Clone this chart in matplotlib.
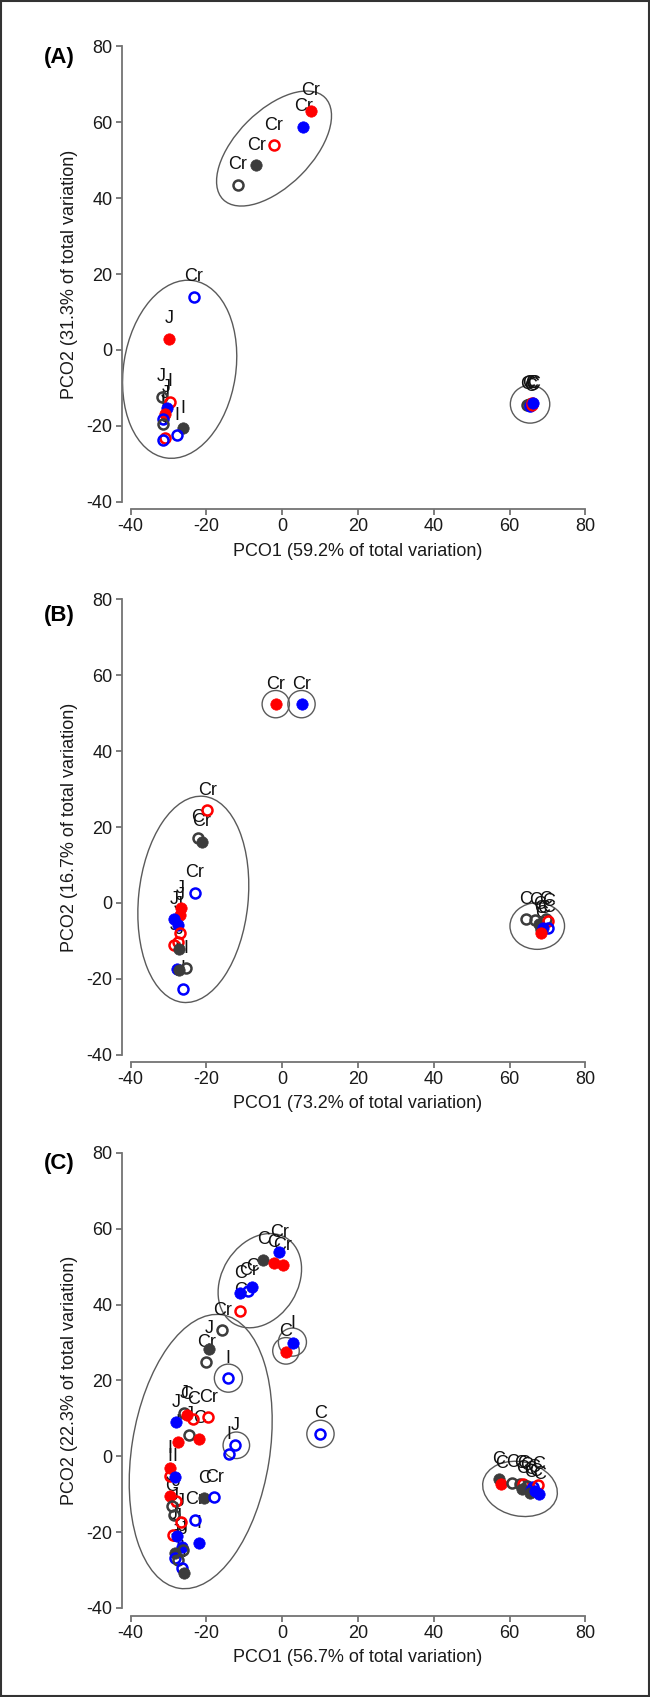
import matplotlib
matplotlib.use("Agg")
import matplotlib.pyplot as plt
from matplotlib.patches import Ellipse, Rectangle

plt.rcParams['font.family'] = ['Liberation Sans', 'DejaVu Sans']
plt.rcParams['axes.unicode_minus'] = False

# ---- data (PCO1, PCO2) ----
# kind: k = dark grey, r = red, b = blue; f = filled, o = open

# panel A
a_x = [-11.7, -6.8, -2.2, 5.6, 7.5,
       -23.3, -29.8, -31.8, -29.6, -30.5, -30.9, -31.5, -31.4, -26.2, -27.8, -30.8, -31.4,
       64.5, 65.0, 65.5, 65.8, 66.0, 66.3]
a_y = [43.5, 48.7, 53.9, 58.8, 63.0,
       14.0, 3.0, -12.4, -13.7, -15.3, -16.8, -18.3, -19.4, -20.6, -22.5, -23.2, -23.8,
       -14.5, -14.2, -14.8, -14.0, -14.6, -14.1]
a_kind = ['ko', 'kf', 'ro', 'bf', 'rf',
          'bo', 'rf', 'ko', 'ro', 'bf', 'rf', 'bo', 'ko', 'kf', 'bo', 'ro', 'bo',
          'ko', 'kf', 'bo', 'ro', 'rf', 'bf']
a_lab = ['Cr', 'Cr', 'Cr', 'Cr', 'Cr',
         'Cr', 'J', 'J', 'I', 'J', 'J', 'I', 'I', 'I', 'I', 'J', 'J',
         'C', 'C', 'C', 'C', 'C', 'C']
# ellipses: centre x, centre y, width, height, angle
a_ell = [(-2.15, 53.1, 38.0, 19.9, 45), (-27.05, -5.1, 47.3, 29.6, 81.2),
         (65.4, -14.3, 10.4, 10.0, 0)]
a_pct = ("59.2", "31.3")

# panel B
b_x = [-1.7, 5.1, -19.8, -22.3, -21.2, -23.0,
       -26.8, -26.9, -28.5, -27.4, -27.0, -27.4, -28.5, -27.2, -25.4, -27.8, -27.2, -26.3,
       64.3, 66.8, 69.6, 67.8, 68.3, 70.2, 70.2, 68.9, 68.4]
b_y = [52.4, 52.4, 24.4, 17.2, 16.1, 2.7,
       -1.4, -3.2, -4.3, -5.8, -8.0, -10.2, -11.2, -12.2, -17.2, -17.5, -17.7, -22.6,
       -4.3, -4.6, -4.3, -5.6, -6.8, -4.9, -6.5, -6.7, -8.0]
b_kind = ['rf', 'bf', 'ro', 'ko', 'kf', 'bo',
          'rf', 'rf', 'bf', 'bf', 'ro', 'ro', 'ro', 'kf', 'ko', 'bf', 'kf', 'bo',
          'ko', 'ko', 'ko', 'kf', 'ko', 'ro', 'bo', 'bf', 'rf']
b_lab = ['Cr', 'Cr', 'Cr', 'C', 'Cr', 'Cr',
         'J', 'J', 'J', 'J', 'J', 'J', 'J', 'J', 'I', 'I', 'I', 'I',
         'C', 'C', 'C', 'C', 'C', 'C', 'C', 'C', 'C']
b_ell = [(-23.45, 0.93, 54.6, 28.9, 84.2), (67.3, -6.1, 14.4, 12.3, 0),
         (-1.7, 52.4, 7.2, 7.2, 0), (5.1, 52.4, 7.2, 7.2, 0)]
b_pct = ("73.2", "16.7")

# panel C
c_x = [-5.0, -0.8, -2.2, 0.1, -11.1, -8.9, -7.9, -11.0,
       -15.8, -19.2, -20.0, -14.2, 1.0, 2.8, -12.4, -14.0, 10.1,
       -25.8, -28.0, -25.2, -23.5, -19.5, -24.5, -27.4, -21.9, -29.6, -29.6, -28.3,
       -20.6, -17.9, -29.6, -28.0, -29.2, -28.5, -23.0, -26.8, -21.9, -28.7, -27.7,
       -26.5, -28.3, -28.3, -26.1, -27.4, -26.5, -25.9,
       57.2, 57.8, 60.7, 62.8, 63.6, 63.4, 64.6, 65.6, 66.2, 67.6, 65.5, 67.8, 66.8]
c_y = [51.8, 53.8, 51.0, 50.4, 43.0, 43.6, 44.7, 38.4,
       33.2, 28.3, 24.8, 20.6, 27.5, 29.8, 2.9, 0.6, 5.9,
       11.3, 9.0, 10.9, 9.7, 10.3, 5.7, 3.7, 4.6, -3.1, -5.3, -5.4,
       -11.0, -10.8, -10.4, -11.9, -13.2, -15.5, -16.7, -17.2, -22.9, -20.7, -21.1,
       -23.8, -25.5, -26.8, -24.6, -27.3, -29.5, -30.7,
       -6.0, -7.3, -7.0, -7.2, -7.3, -8.6, -7.8, -8.8, -8.2, -7.5, -9.6, -10.0, -9.2]
c_kind = ['kf', 'bf', 'rf', 'rf', 'bf', 'bo', 'bf', 'ro',
          'ko', 'kf', 'ko', 'bo', 'rf', 'bf', 'bo', 'bo', 'bo',
          'ko', 'bf', 'rf', 'ro', 'ro', 'ko', 'rf', 'rf', 'rf', 'ro', 'bf',
          'kf', 'bo', 'rf', 'ro', 'ko', 'ko', 'bo', 'ro', 'bf', 'ro', 'bf',
          'bf', 'kf', 'bo', 'ko', 'ko', 'bo', 'kf',
          'kf', 'rf', 'ko', 'ko', 'ro', 'kf', 'ko', 'bf', 'bo', 'ro', 'kf', 'bf', 'bf']
c_lab = ['C', 'Cr', 'C', 'Cr', 'C', 'Cr', 'C', 'C',
         'Cr', 'J', 'Cr', 'I', 'C', 'I', 'J', 'I', 'C',
         'J', 'J', 'C', 'C', 'Cr', 'J', 'I', 'C', 'I', 'I', 'I',
         'C', 'Cr', 'J', 'J', 'C', 'J', 'Cr', 'J', 'I', 'J', 'J',
         'J', 'J', 'J', 'J', 'I', 'I', 'I',
         'C', 'C', 'C', 'C', 'C', 'C', 'C', 'C', 'C', 'C', 'C', 'C', 'C']
c_ell = [(-5.9, 46.3, 26.5, 20.0, 58), (-21.5, 1.25, 73.0, 36.4, 81),
         (62.75, -8.6, 19.9, 14.3, -11.7),
         (1.0, 27.8, 7.0, 7.0, 0), (2.7, 30.1, 7.4, 7.4, 0),
         (-14.2, 20.6, 7.4, 7.4, 0), (-12.1, 2.9, 7.0, 7.0, 0), (10.1, 5.9, 7.2, 7.2, 0)]
c_pct = ("56.7", "22.3")

COL = {'k': '#3c3c3c', 'r': '#ff0000', 'b': '#0000ff'}
AX_COL = '#737373'

fig = plt.figure(figsize=(6.5, 16.97), dpi=100)
fig.patches.append(Rectangle((0.0015, 0.0006), 0.997, 0.9988, transform=fig.transFigure,
                             fill=False, edgecolor='#333333', linewidth=1.5))

panels = [("(A)", a_x, a_y, a_kind, a_lab, a_ell, a_pct, 0.7044, 58),
          ("(B)", b_x, b_y, b_kind, b_lab, b_ell, b_pct, 0.37855, 616),
          ("(C)", c_x, c_y, c_kind, c_lab, c_ell, c_pct, 0.05245, 1164)]

for tag, xs, ys, kinds, labs, ells, pct, bottom, tag_y in panels:
    ax = fig.add_axes([0.2009, bottom, 0.6997, 0.2682])
    ax.set_xlim(-40, 80)
    ax.set_ylim(-40, 80)
    for s in ['top', 'right']:
        ax.spines[s].set_visible(False)
    ax.spines['left'].set_position(('outward', 6.5))
    ax.spines['bottom'].set_position(('outward', 5.5))
    ax.spines['left'].set_bounds(-40, 80)
    ax.spines['bottom'].set_bounds(-40, 80)
    for s in ['left', 'bottom']:
        ax.spines[s].set_color(AX_COL)
        ax.spines[s].set_linewidth(1.3)
    ax.set_xticks(range(-40, 81, 20))
    ax.set_yticks(range(-40, 81, 20))
    ax.tick_params(direction='out', length=4, width=1.3, color=AX_COL,
                   labelsize=13, labelcolor='#1a1a1a', pad=2.5)

    for cx, cy, w, h, ang in ells:
        ax.add_patch(Ellipse((cx, cy), w, h, angle=ang, fill=False,
                             edgecolor='#5a5a5a', linewidth=1.0, clip_on=False, zorder=1))

    for x, y, lab in zip(xs, ys, labs):
        ax.annotate(lab, (x, y), xytext=(0, 14.4), textcoords='offset points',
                    ha='center', va='center', fontsize=13, color='#111111',
                    zorder=2, annotation_clip=False)

    for x, y, k in zip(xs, ys, kinds):
        c = COL[k[0]]
        if k[1] == 'f':
            ax.plot(x, y, 'o', ms=8.2, mfc=c, mec=c, mew=0.5, zorder=3, clip_on=False)
        else:
            ax.plot(x, y, 'o', ms=7.2, mfc='none', mec=c, mew=1.8, zorder=3, clip_on=False)

    ax.text(0.5, -0.1085, "PCO1 (%s%% of total variation)" % pct[0], transform=ax.transAxes,
            ha='center', va='center', fontsize=13, color='#1a1a1a')
    ax.text(-0.134, 0.5, "PCO2 (%s%% of total variation)" % pct[1], transform=ax.transAxes,
            ha='center', va='center', rotation=90, fontsize=13, color='#1a1a1a')
    fig.text(59 / 650, 1 - tag_y / 1697, tag, ha='center', va='center',
             fontsize=16, fontweight='bold')

fig.savefig("out.png", dpi=100)
